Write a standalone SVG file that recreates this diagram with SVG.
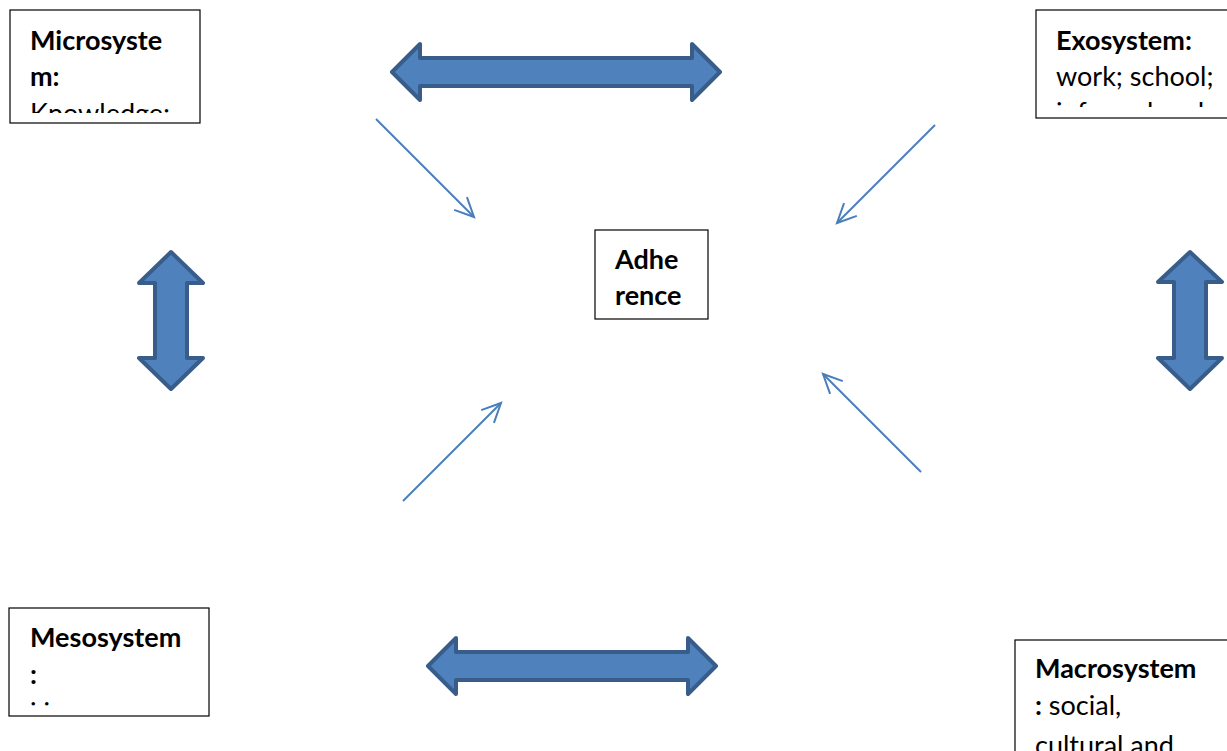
<svg xmlns="http://www.w3.org/2000/svg" width="1227" height="751" viewBox="0 0 1227 751">
<style>
.box{fill:#fff;stroke:#000;stroke-width:1.2}
.t{font-family:Lato,"Open Sans","Liberation Sans",sans-serif;font-size:27px;fill:#000}
.b{font-weight:bold}
.big{fill:#4f81bd;stroke:#385d8a;stroke-width:4;stroke-linejoin:round}
.thin{stroke:#4a7ebb;stroke-width:2;fill:none;marker-end:url(#open)}
</style>
<defs>
<marker id="open" markerUnits="userSpaceOnUse" markerWidth="30" markerHeight="30" refX="0" refY="0" viewBox="-25 -15 30 30" orient="auto">
<path d="M -19 -9 L 0 0 L -19 9" fill="none" stroke="#4a7ebb" stroke-width="2"/>
</marker>
<clipPath id="c1"><rect x="10" y="10" width="190" height="103"/></clipPath>
<clipPath id="c2"><rect x="1036" y="10" width="191" height="97"/></clipPath>
<clipPath id="c3"><rect x="9" y="608" width="200" height="98"/></clipPath>
<clipPath id="c4"><rect x="1015" y="640" width="212" height="111"/></clipPath>
</defs>
<rect width="1227" height="751" fill="#fff"/>
<g id="connectors">
<path class="big" d="M392,72 L420,44 L420,58 L692,58 L692,44 L720,72 L692,100 L692,86 L420,86 L420,100 Z"/>
<path class="big" d="M428,666 L456,638 L456,652 L688,652 L688,638 L716,666 L688,694 L688,680 L456,680 L456,694 Z"/>
<path class="big" d="M171,252 L203,283 L187,283 L187,358 L203,358 L171,389 L139,358 L155,358 L155,283 L139,283 Z"/>
<path class="big" d="M1190,252 L1222,282 L1206,282 L1206,358 L1222,358 L1190,389 L1158,358 L1174,358 L1174,282 L1158,282 Z"/>
<line class="thin" x1="376" y1="119" x2="474" y2="217"/>
<line class="thin" x1="935" y1="125" x2="837" y2="223"/>
<line class="thin" x1="403" y1="501" x2="501" y2="403"/>
<line class="thin" x1="921" y1="472" x2="823" y2="374"/>
</g>
<g id="microsystem">
<rect class="box" x="10" y="10" width="190" height="113"/>
<g clip-path="url(#c1)">
<text class="t b" x="30" y="50">Microsyste</text>
<text class="t b" x="30" y="86">m:</text>
<text class="t" x="30" y="123">Knowledge;</text>
</g>
</g>
<g id="exosystem">
<rect class="box" x="1036" y="10" width="200" height="108"/>
<g clip-path="url(#c2)">
<text class="t b" x="1056" y="50">Exosystem:</text>
<text class="t" x="1056" y="86">work; school;</text>
<text class="t" x="1056" y="122">informal and</text>
</g>
</g>
<g id="adherence">
<rect class="box" x="595" y="230" width="113" height="89"/>
<text class="t b" x="615" y="269">Adhe</text>
<text class="t b" x="615" y="305">rence</text>
</g>
<g id="mesosystem">
<rect class="box" x="9" y="608" width="200" height="108"/>
<g clip-path="url(#c3)">
<text class="t b" x="30" y="647">Mesosystem</text>
<text class="t b" x="30" y="684">:</text>
<text class="t" x="30" y="722">i i</text>
</g>
</g>
<g id="macrosystem">
<rect class="box" x="1015" y="640" width="220" height="120"/>
<g clip-path="url(#c4)">
<text class="t b" x="1035" y="678">Macrosystem</text>
<text class="t" x="1035" y="715"><tspan class="b">:</tspan> social,</text>
<text class="t" x="1035" y="755">cultural and</text>
</g>
</g>
</svg>
